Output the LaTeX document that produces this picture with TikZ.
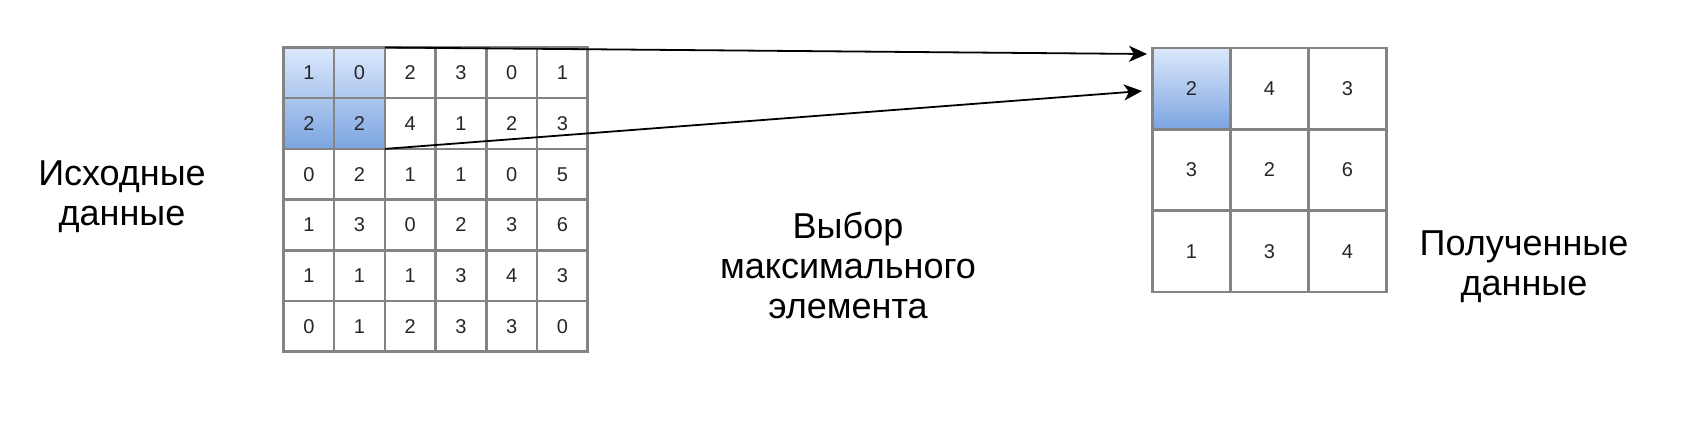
\documentclass[tikz,border=0pt]{standalone}
\usepackage{fontspec}
\setmainfont{Liberation Sans}
\usetikzlibrary{arrows.meta}
\usetikzlibrary{backgrounds}
\definecolor{gridgray}{RGB}{132,132,132}
\definecolor{pooltop}{RGB}{220,233,252}
\definecolor{poolbot}{RGB}{124,164,224}

\begin{document}
\begin{tikzpicture}
[x=1pt,y=-1pt,%
  cell/.style={shape=rectangle,draw=gridgray,line width=2.5pt,inner sep=0pt,outer sep=0pt,%
    text=black!85,font=\fontsize{20}{24}\selectfont},%
  small/.style={cell,minimum width=50.7pt,minimum height=50.7pt},%
  big/.style={cell,minimum width=78pt,minimum height=81.3pt},%
  label/.style={align=center,font=\fontsize{36}{40}\selectfont},%
  link/.style={-{Stealth[length=18pt,width=16pt,inset=5pt]},line width=1.8pt}]
\useasboundingbox (0,0) rectangle (1682,424);
% input matrix
\foreach \row [count=\r] in {{1,0,2,3,0,1},{2,2,4,1,2,3},{0,2,1,1,0,5},{1,3,0,2,3,6},{1,1,1,3,4,3},{0,1,2,3,3,0}}
  \foreach \v [count=\c] in \row
    \node[small] (in-\r-\c) at ({283.5+50.7*(\c-0.5)},{47.5+50.7*(\r-0.5)}) {\v};
% pooled matrix
\foreach \row [count=\r] in {{2,4,3},{3,2,6},{1,3,4}}
  \foreach \v [count=\c] in \row
    \node[big] (out-\r-\c) at ({1152.5+78*(\c-0.5)},{48+81.3*(\r-0.5)}) {\v};
\begin{pgfonlayer}{background}
  \shade[top color=pooltop,bottom color=poolbot] (in-1-1.north west) rectangle (in-2-2.south east);
  \shade[top color=pooltop,bottom color=poolbot] (out-1-1.north west) rectangle (out-1-1.south east);
\end{pgfonlayer}
\coordinate (tipA) at (1147,54);
\coordinate (tipB) at (1142,91);
\draw[link] (in-1-2.north east) -- (tipA);
\draw[link] (in-2-2.south east) -- (tipB);
\node[label] (src) at (122,197) {Исходные\\данные};
\node[label] (op) at (848,265) {Выбор\\максимального\\элемента};
\node[label] (dst) at (1524,267) {Полученные\\данные};
\end{tikzpicture}
\end{document}
